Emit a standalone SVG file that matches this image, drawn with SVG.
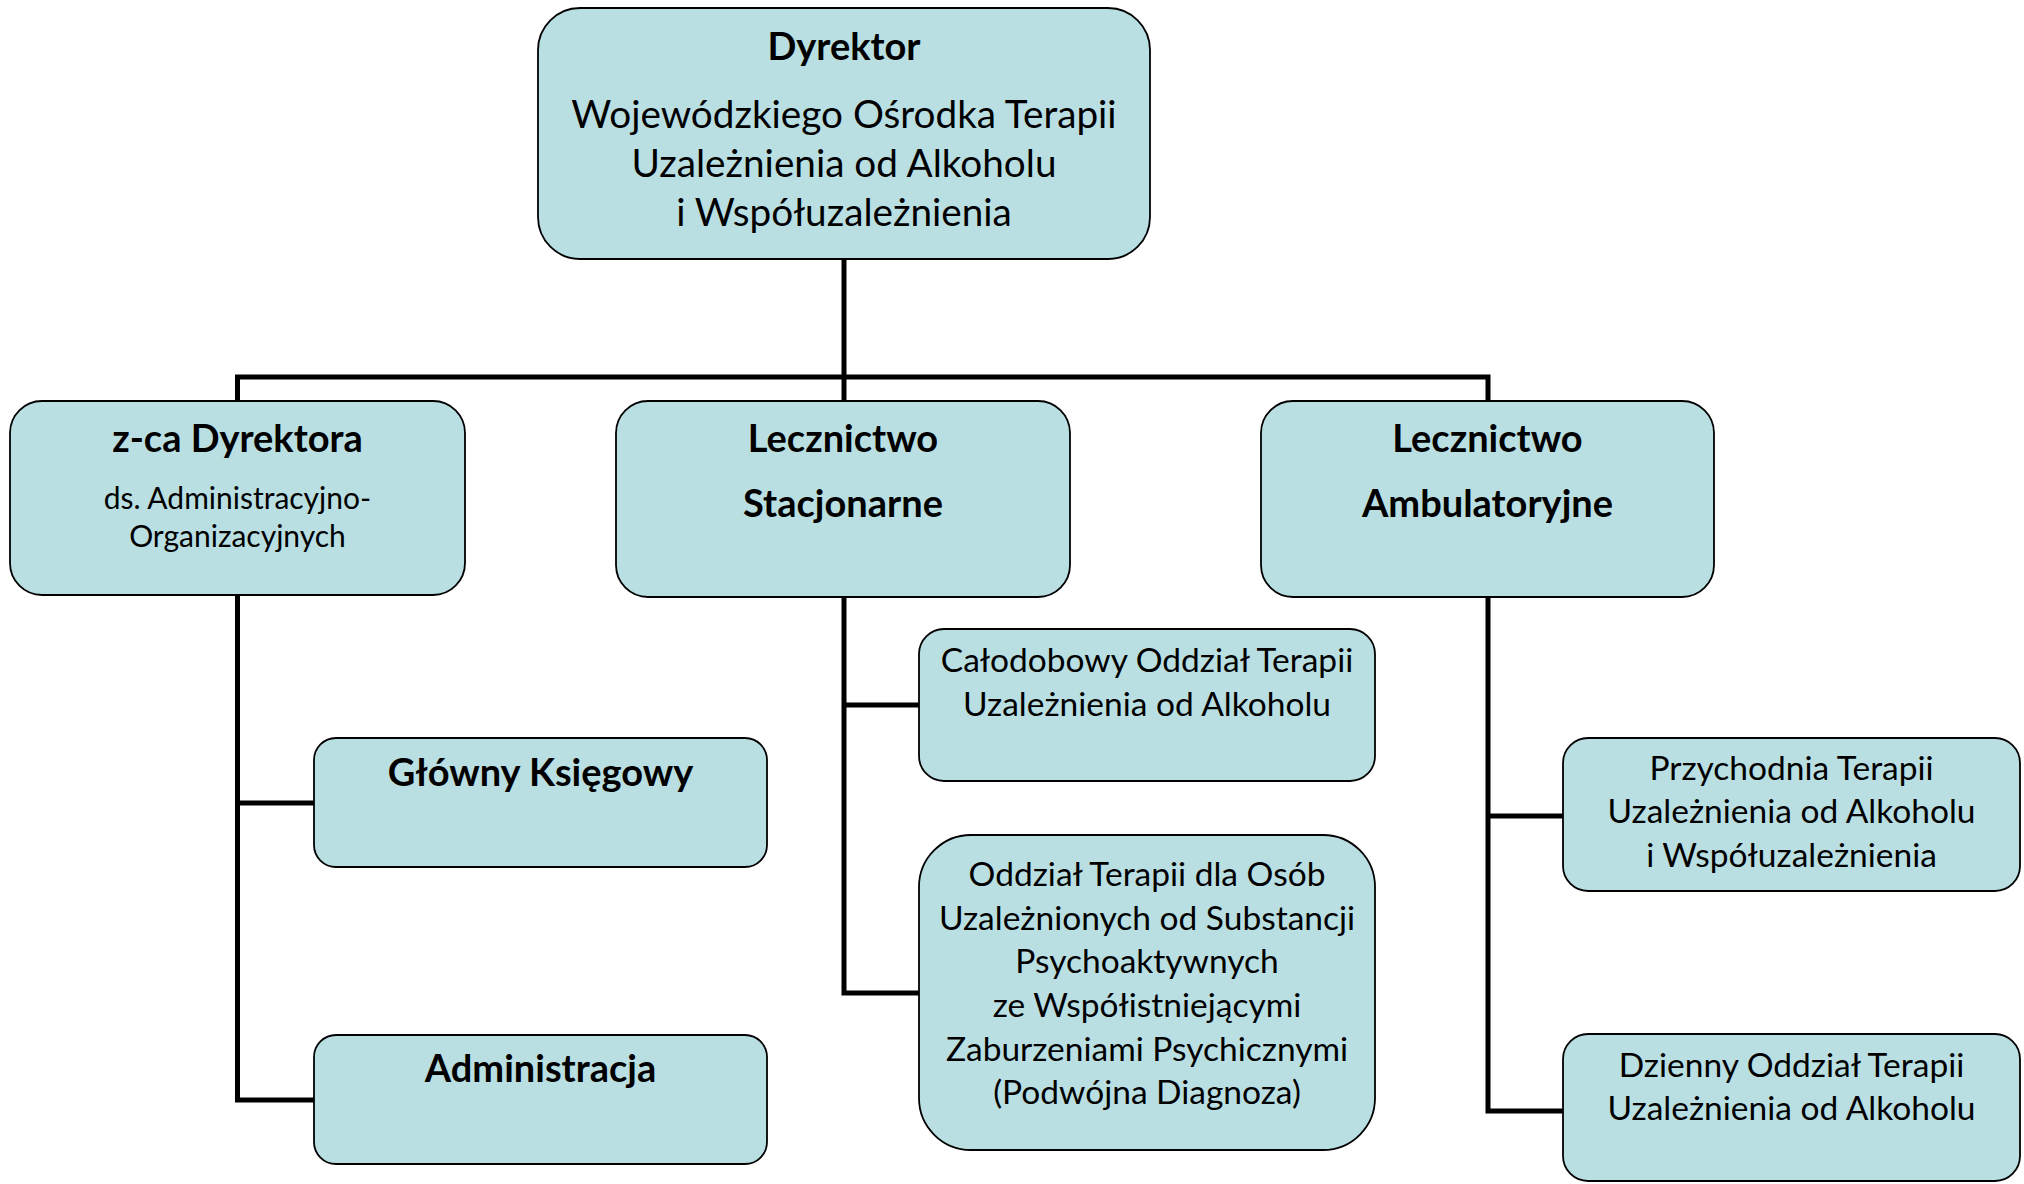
<svg xmlns="http://www.w3.org/2000/svg" width="2024" height="1184" viewBox="0 0 2024 1184">
<style>
  .box { fill: #B9DFE3; stroke: #000; stroke-width: 1.8; }
  .conn { fill: none; stroke: #000; stroke-width: 5; stroke-linecap: square; }
  text { font-family: Lato, "Liberation Sans", sans-serif; fill: #000; text-anchor: middle; }
  .b { font-weight: bold; font-size: 38px; }
  .r { font-size: 38.7px; }
  .s { font-size: 30px; }
  .c { font-size: 33.5px; }
</style>
<rect width="2024" height="1184" fill="#fff"/>
<g id="connectors">
  <path class="conn" d="M844 259 V377 M237.5 377 H1488 M237.5 377 V401 M844 377 V401 M1488 377 V401"/>
  <path class="conn" d="M237.5 595 V1100 M237.5 803 H314 M237.5 1100 H314"/>
  <path class="conn" d="M844 597 V993 M844 705 H919 M844 993 H919"/>
  <path class="conn" d="M1488 597 V1111 M1488 816 H1563 M1488 1111 H1563"/>
</g>
<g id="dyrektor">
  <rect class="box" x="538" y="8" width="612" height="251" rx="42"/>
  <text class="b" x="844" y="60">Dyrektor</text>
  <text class="r" x="844" y="128">Wojewódzkiego Ośrodka Terapii</text>
  <text class="r" x="844" y="177">Uzależnienia od Alkoholu</text>
  <text class="r" x="844" y="226">i Współuzależnienia</text>
</g>
<g id="zca">
  <rect class="box" x="10" y="401" width="455" height="194" rx="32"/>
  <text class="b" x="237.5" y="452">z-ca Dyrektora</text>
  <text class="s" x="237.5" y="509">ds. Administracyjno-</text>
  <text class="s" x="237.5" y="547">Organizacyjnych</text>
</g>
<g id="stacjonarne">
  <rect class="box" x="616" y="401" width="454" height="196" rx="32"/>
  <text class="b" x="843" y="452">Lecznictwo</text>
  <text class="b" x="843" y="517">Stacjonarne</text>
</g>
<g id="ambulatoryjne">
  <rect class="box" x="1261" y="401" width="453" height="196" rx="32"/>
  <text class="b" x="1487.5" y="452">Lecznictwo</text>
  <text class="b" x="1487.5" y="517">Ambulatoryjne</text>
</g>
<g id="glowny">
  <rect class="box" x="314" y="738" width="453" height="129" rx="22"/>
  <text class="b" x="540.5" y="786">Główny Księgowy</text>
</g>
<g id="administracja">
  <rect class="box" x="314" y="1035" width="453" height="129" rx="22"/>
  <text class="b" x="540.5" y="1082">Administracja</text>
</g>
<g id="calodobowy">
  <rect class="box" x="919" y="629" width="456" height="152" rx="25"/>
  <text class="c" x="1147" y="672">Całodobowy Oddział Terapii</text>
  <text class="c" x="1147" y="716">Uzależnienia od Alkoholu</text>
</g>
<g id="podwojna">
  <rect class="box" x="919" y="835" width="456" height="315" rx="52"/>
  <text class="c" x="1147" y="886">Oddział Terapii dla Osób</text>
  <text class="c" x="1147" y="930">Uzależnionych od Substancji</text>
  <text class="c" x="1147" y="973">Psychoaktywnych</text>
  <text class="c" x="1147" y="1017">ze Współistniejącymi</text>
  <text class="c" x="1147" y="1061">Zaburzeniami Psychicznymi</text>
  <text class="c" x="1147" y="1104">(Podwójna Diagnoza)</text>
</g>
<g id="przychodnia">
  <rect class="box" x="1563" y="738" width="457" height="153" rx="25"/>
  <text class="c" x="1791.5" y="780">Przychodnia Terapii</text>
  <text class="c" x="1791.5" y="823">Uzależnienia od Alkoholu</text>
  <text class="c" x="1791.5" y="867">i Współuzależnienia</text>
</g>
<g id="dzienny">
  <rect class="box" x="1563" y="1034" width="457" height="147" rx="25"/>
  <text class="c" x="1791.5" y="1077">Dzienny Oddział Terapii</text>
  <text class="c" x="1791.5" y="1120">Uzależnienia od Alkoholu</text>
</g>
</svg>
